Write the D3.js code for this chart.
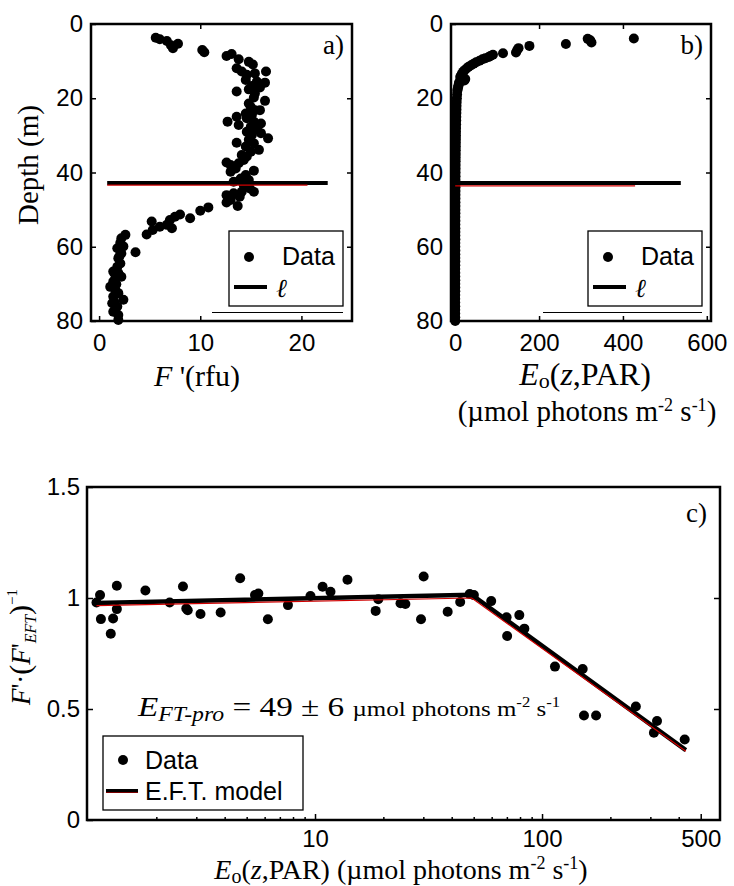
<!DOCTYPE html>
<html>
<head>
<meta charset="utf-8">
<script src="https://cdn.jsdelivr.net/npm/d3@7"></script>
<style>
  body { margin: 0; background: #fff; }
  svg { display: block; }
</style>
</head>
<body>
<svg id="fig" width="734" height="886"></svg>
<script>
// panel a: [F' (rfu), depth (m)]
const fluorProfile = [
  [5.6,3.7],[6.0,4.1],[6.7,4.6],[7.1,5.7],[7.3,6.5],[7.8,5.3],[10.2,7.0],[10.4,7.6],
  [12.6,8.6],[13.1,8.1],[13.8,9.5],[14.8,10.2],[15.2,10.9],[13.6,11.9],[16.5,12.8],[14.1,12.8],
  [14.6,13.7],[15.4,13.3],[14.5,15.1],[15.6,15.5],[16.4,15.8],[15.1,16.7],[15.9,17.1],[14.8,17.6],
  [13.6,18.2],[15.4,18.7],[15.3,19.8],[16.4,20.7],[14.8,21.4],[15.0,22.4],[15.4,23.2],[15.9,23.2],
  [14.5,24.1],[15.1,24.5],[13.6,25.0],[14.6,25.4],[12.7,26.3],[15.3,26.3],[16.0,26.8],[13.8,27.2],
  [15.0,27.7],[15.6,28.1],[14.6,29.0],[16.0,29.4],[15.1,29.9],[16.7,30.8],[14.8,31.2],[13.6,32.0],
  [15.3,32.1],[14.5,33.0],[15.8,33.9],[15.0,34.4],[14.1,35.3],[14.6,35.7],[14.3,36.6],[12.6,37.3],
  [13.8,37.5],[13.0,38.0],[13.5,38.9],[15.3,39.5],[13.0,39.8],[14.5,40.7],[14.0,41.6],[14.8,42.0],
  [13.3,42.5],[14.3,43.4],[14.9,44.3],[15.3,45.2],[14.1,45.2],[13.3,45.6],[13.9,46.5],[12.6,46.1],
  [13.0,47.4],[12.6,48.1],[13.7,49.0],[10.8,49.4],[10.0,50.3],[9.0,52.3],[8.0,51.3],[7.5,51.9],
  [7.0,52.8],[6.7,54.1],[7.2,55.0],[6.0,54.6],[5.2,53.2],[5.3,55.5],[4.7,56.7],[2.6,56.8],
  [2.2,57.7],[2.1,58.9],[2.4,59.9],[1.8,60.4],[3.6,61.5],[2.2,61.8],[1.9,63.1],[2.1,64.5],
  [1.8,65.4],[1.4,66.7],[1.9,67.1],[1.6,68.5],[2.2,68.1],[1.4,69.4],[1.1,70.8],[1.6,71.6],
  [1.9,72.5],[1.4,73.4],[2.4,74.3],[1.3,75.2],[1.8,76.1],[1.4,77.5],[1.9,78.4],[1.9,79.7],
  [2.0,62.6],[1.7,70.1],[1.5,74.8],[1.6,76.9]
];

// panel b: [Eo (umol photons m-2 s-1), depth (m)]
const parProfile = [
  [426,3.9],[316,4.0],[322,4.4],[325,5.0],[264,5.4],[177,5.9],[151,6.5],[148,7.0],[145,7.7],
  [114,7.9],[90,8.3],[84,8.6],[80,8.9],[72,9.2],[65,9.5],[58,9.9],[50,10.3],[44,10.7],[38,11.1],
  [32,11.5],[27,12.0],[22,12.5],[19,12.9],[16,13.4],[14,13.9],[12,14.3],[24,14.8],[22,15.2],
  [10,15.6],[9,16.0],[8,16.5],[7,17.0],[6,17.5],[5,18.0],[4.5,19],[4,20],[3.5,21],[3.2,22],
  [3,23],[2.8,24],[2.6,25],[2.4,26],[2.2,27],[2,28],[1.9,29],[1.8,30],[1.7,31],[1.6,32],
  [1.5,33],[1.4,34],[1.3,35],[1.2,36],[1.1,37],[1,38],[1,39],[0.9,40],[0.9,41],[0.8,42],
  [0.8,43],[0.7,44],[0.7,45],[0.7,46],[0.6,47],[0.6,48],[0.6,49],[0.5,50],[0.5,51],[0.5,52],
  [0.5,53],[0.4,54],[0.4,55],[0.4,56],[0.4,57],[0.4,58],[0.3,59],[0.3,60],[0.3,61],[0.3,62],
  [0.3,63],[0.3,64],[0.2,65],[0.2,66],[0.2,67],[0.2,68],[0.2,69],[0.2,70],[0.2,71],[0.2,72],
  [0.1,73],[0.1,74],[0.1,75],[0.1,76],[0.1,77],[0.1,78],[0.1,79],[0.1,80]
];

// l (euphotic depth) lines: [xStart, xEnd, depth]
const ellA = {black: [0.8, 22.6, 42.8], red: [0.8, 20.6, 43.4]};
const ellB = {black: [0, 538, 42.8], red: [0, 429, 43.6]};

// panel c
const cE = [1.09,1.13,1.14,1.26,1.29,1.34,1.34,1.79,2.29,2.62,2.71,2.75,3.13,3.84,4.68,5.44,5.63,
  6.20,7.60,9.55,10.8,11.7,13.9,18.5,19.0,23.8,25.0,29.3,30.1,38.4,43.6,48.0,50.1,59.7,69.8,70.2,
  79.4,83.6,114,151,153,173,259,321,311,425];
const cRatio = [0.98,1.013,0.905,0.839,0.908,1.055,0.95,1.034,0.98,1.052,0.953,0.945,0.928,0.935,
  1.089,1.013,1.02,0.904,0.968,1.009,1.051,1.028,1.082,0.942,0.994,0.976,0.973,0.904,1.097,0.938,
  0.982,1.018,1.013,0.986,0.913,0.829,0.923,0.862,0.691,0.68,0.471,0.471,0.511,0.446,0.393,0.363];
const modelE = [1.09, 49, 430];
const modelBlack = [0.978, 1.015, 0.315];
const modelRed = [0.966, 1.0, 0.31];

const serif = "'Liberation Serif','Times New Roman',serif";
const sans = "'Liberation Sans',Arial,Helvetica,sans-serif";

const svg = d3.select("#fig");

function rich(sel, x, y, parts, size, anchor, rot) {
  const t = sel.append("text")
    .attr("x", x).attr("y", y)
    .attr("font-family", serif)
    .attr("font-size", size)
    .attr("text-anchor", anchor || "start");
  if (rot) t.attr("transform", `rotate(${rot},${x},${y})`);
  let shift = 0;
  parts.forEach(p => {
    const s = t.append("tspan").text(p.t);
    if (p.i) s.attr("font-style", "italic");
    if (p.s) s.attr("font-size", p.s);
    const want = p.dy || 0;
    if (want !== shift) { s.attr("dy", want - shift); shift = want; }
  });
  return t;
}

function styleAxis(g) {
  g.select(".domain").remove();
  g.selectAll(".tick line").attr("stroke", "#000").attr("stroke-width", 1.5);
  g.selectAll(".tick text").attr("font-family", sans).attr("font-size", 24).attr("fill", "#000");
}

function frame(g, x0, x1, y0, y1) {
  g.append("rect")
    .attr("x", x0).attr("y", y0).attr("width", x1 - x0).attr("height", y1 - y0)
    .attr("fill", "none").attr("stroke", "#000").attr("stroke-width", 2.5);
}

function depthPanel(opt) {
  const g = svg.append("g");
  const x = d3.scaleLinear().domain(opt.xdom).range(opt.xr);
  const y = d3.scaleLinear().domain([0, 80]).range([24, 321]);

  g.append("g").attr("transform", `translate(${opt.xr[0]},0)`)
    .call(d3.axisLeft(y).tickValues([0, 20, 40, 60, 80]).tickSizeInner(-5).tickSizeOuter(0).tickPadding(8))
    .call(styleAxis);
  g.append("g").attr("transform", `translate(${opt.xr[1]},0)`)
    .call(d3.axisRight(y).tickValues([20, 40, 60]).tickSizeInner(-5).tickSizeOuter(0).tickFormat(""))
    .call(styleAxis);
  g.append("g").attr("transform", "translate(0,321)")
    .call(d3.axisBottom(x).tickValues(opt.ticks).tickSizeInner(-5).tickSizeOuter(0).tickPadding(13))
    .call(styleAxis);
  g.append("g").attr("transform", "translate(0,24)")
    .call(d3.axisTop(x).tickValues(opt.ticks.slice(1, -1)).tickSizeInner(-5).tickSizeOuter(0).tickFormat(""))
    .call(styleAxis);

  g.selectAll(".dot").data(opt.data).join("circle")
    .attr("class", "dot")
    .attr("cx", d => x(d[0])).attr("cy", d => y(d[1])).attr("r", 5)
    .attr("fill", "#000");

  g.append("line")
    .attr("x1", x(opt.ell.black[0])).attr("x2", x(opt.ell.black[1]))
    .attr("y1", y(opt.ell.black[2])).attr("y2", y(opt.ell.black[2]))
    .attr("stroke", "#000").attr("stroke-width", 4);
  g.append("line")
    .attr("x1", x(opt.ell.red[0])).attr("x2", x(opt.ell.red[1]))
    .attr("y1", y(opt.ell.red[2])).attr("y2", y(opt.ell.red[2]))
    .attr("stroke", "#d00000").attr("stroke-width", 1.2);

  frame(g, opt.xr[0], opt.xr[1], 24, 321);

  // legend
  const lx = opt.xr[1] - 123, ly = 231;
  g.append("line").attr("x1", opt.legLine).attr("x2", opt.xr[1] - 9)
    .attr("y1", 312.5).attr("y2", 312.5).attr("stroke", "#000").attr("stroke-width", 1);
  g.append("rect").attr("x", lx).attr("y", ly).attr("width", 114).attr("height", 75)
    .attr("fill", "#fff").attr("stroke", "#000").attr("stroke-width", 1.3);
  g.append("circle").attr("cx", lx + 20).attr("cy", ly + 26).attr("r", 5).attr("fill", "#000");
  g.append("text").attr("x", lx + 53).attr("y", ly + 34)
    .attr("font-family", sans).attr("font-size", 25).text("Data");
  g.append("line").attr("x1", lx + 5).attr("x2", lx + 38).attr("y1", ly + 56).attr("y2", ly + 56)
    .attr("stroke", "#000").attr("stroke-width", 4);
  g.append("text").attr("x", lx + 47).attr("y", ly + 66)
    .attr("font-family", "'DejaVu Serif',serif").attr("font-style", "italic")
    .attr("font-size", 26).text("ℓ");

  g.append("text").attr("x", opt.xr[1] - 8).attr("y", 54).attr("text-anchor", "end")
    .attr("font-family", serif).attr("font-size", 27).text(opt.tag);
  return g;
}

// panel a
depthPanel({
  xdom: [-0.8, 25], xr: [91, 352], ticks: [0, 10, 20],
  data: fluorProfile, ell: ellA, legLine: 212, tag: "a)"
});
rich(svg, 197, 386, [{t: "F", i: true}, {t: " '(rfu)"}], 30, "middle");
rich(svg, 38, 165, [{t: "Depth (m)"}], 29, "middle", -90);

// panel b
depthPanel({
  xdom: [-10, 610], xr: [451, 711], ticks: [0, 200, 400, 600],
  data: parProfile, ell: ellB, legLine: 543, tag: "b)"
});
rich(svg, 585, 385, [{t: "E", i: true}, {t: "o", s: 22, dy: 3}, {t: "(", dy: 0}, {t: "z", i: true}, {t: ",PAR)"}], 32, "middle");
rich(svg, 587, 421, [{t: "(µmol photons m"}, {t: "-2", s: 18, dy: -10}, {t: " s", dy: 0}, {t: "-1", s: 18, dy: -10}, {t: ")", dy: 0}], 29, "middle");

// panel c
(function() {
  const g = svg.append("g");
  const x = d3.scaleLog().domain([0.99, 608]).range([87, 720]);
  const y = d3.scaleLinear().domain([0, 1.5]).range([820, 487]);

  const minors = [2,3,4,5,6,7,8,9,20,30,40,50,60,70,80,90,200,300,400];
  g.append("g").attr("transform", "translate(0,820)")
    .call(d3.axisBottom(x).tickValues(minors).tickSizeInner(-3).tickSizeOuter(0).tickFormat(""))
    .call(styleAxis);
  g.append("g").attr("transform", "translate(0,820)")
    .call(d3.axisBottom(x).tickValues([10, 100, 500]).tickSizeInner(-6).tickSizeOuter(0).tickPadding(10).tickFormat(d3.format("d")))
    .call(styleAxis);
  g.append("g").attr("transform", "translate(87,0)")
    .call(d3.axisLeft(y).tickValues([0, 0.5, 1, 1.5]).tickSizeInner(-6).tickSizeOuter(0).tickPadding(7).tickFormat(d => d === 0 || d === 1 ? d : d3.format(".1f")(d)))
    .call(styleAxis);
  g.append("g").attr("transform", "translate(720,0)")
    .call(d3.axisRight(y).tickValues([0.5, 1]).tickSizeInner(-6).tickSizeOuter(0).tickFormat(""))
    .call(styleAxis);

  g.selectAll(".dot").data(cE).join("circle")
    .attr("class", "dot")
    .attr("cx", d => x(d)).attr("cy", (d, i) => y(cRatio[i])).attr("r", 5)
    .attr("fill", "#000");

  const ln = vals => d3.line().x((d, i) => x(modelE[i])).y(d => y(d))(vals);
  g.append("path").attr("d", ln(modelBlack)).attr("fill", "none")
    .attr("stroke", "#000").attr("stroke-width", 4.5);
  g.append("path").attr("d", ln(modelRed)).attr("fill", "none")
    .attr("stroke", "#d00000").attr("stroke-width", 1.2);

  frame(g, 87, 720, 487, 820);

  // legend
  g.append("rect").attr("x", 103).attr("y", 736).attr("width", 200).attr("height", 74)
    .attr("fill", "#fff").attr("stroke", "#000").attr("stroke-width", 1.3);
  g.append("circle").attr("cx", 123).attr("cy", 760).attr("r", 5).attr("fill", "#000");
  g.append("text").attr("x", 145).attr("y", 769).attr("font-family", sans).attr("font-size", 25).text("Data");
  g.append("line").attr("x1", 106).attr("x2", 138).attr("y1", 791).attr("y2", 791)
    .attr("stroke", "#000").attr("stroke-width", 4);
  g.append("line").attr("x1", 106).attr("x2", 138).attr("y1", 792.5).attr("y2", 792.5)
    .attr("stroke", "#7a0000").attr("stroke-width", 1);
  g.append("text").attr("x", 145).attr("y", 800).attr("font-family", sans).attr("font-size", 25).text("E.F.T. model");

  g.append("text").attr("x", 707).attr("y", 522).attr("text-anchor", "end")
    .attr("font-family", serif).attr("font-size", 27).text("c)");

  rich(g, 138, 716, [
    {t: "E", i: true}, {t: "FT-pro", i: true, s: 20, dy: 5},
    {t: " = 49 ± 6 ", dy: 0}, {t: "µmol photons m", s: 21}, {t: "-2", s: 14, dy: -9},
    {t: " s", s: 21, dy: 0}, {t: "-1", s: 14, dy: -9}
  ], 28, "start")
    .attr("textLength", 422).attr("lengthAdjust", "spacingAndGlyphs");

  rich(g, 401, 879, [
    {t: "E", i: true}, {t: "o", s: 20, dy: 4}, {t: "(", dy: 0}, {t: "z", i: true},
    {t: ",PAR) (µmol photons m"}, {t: "-2", s: 18, dy: -10}, {t: " s", dy: 0},
    {t: "-1", s: 18, dy: -10}, {t: ")", dy: 0}
  ], 28, "middle");

  rich(g, 30, 647, [
    {t: "F", i: true}, {t: "'·"}, {t: "(", s: 30, dy: 0}, {t: "F", i: true}, {t: "'"},
    {t: "EFT", i: true, s: 16, dy: 6}, {t: ")", s: 30, dy: 0}, {t: "−1", s: 15, dy: -13}
  ], 27, "middle", -90);
})();
</script>
</body>
</html>
